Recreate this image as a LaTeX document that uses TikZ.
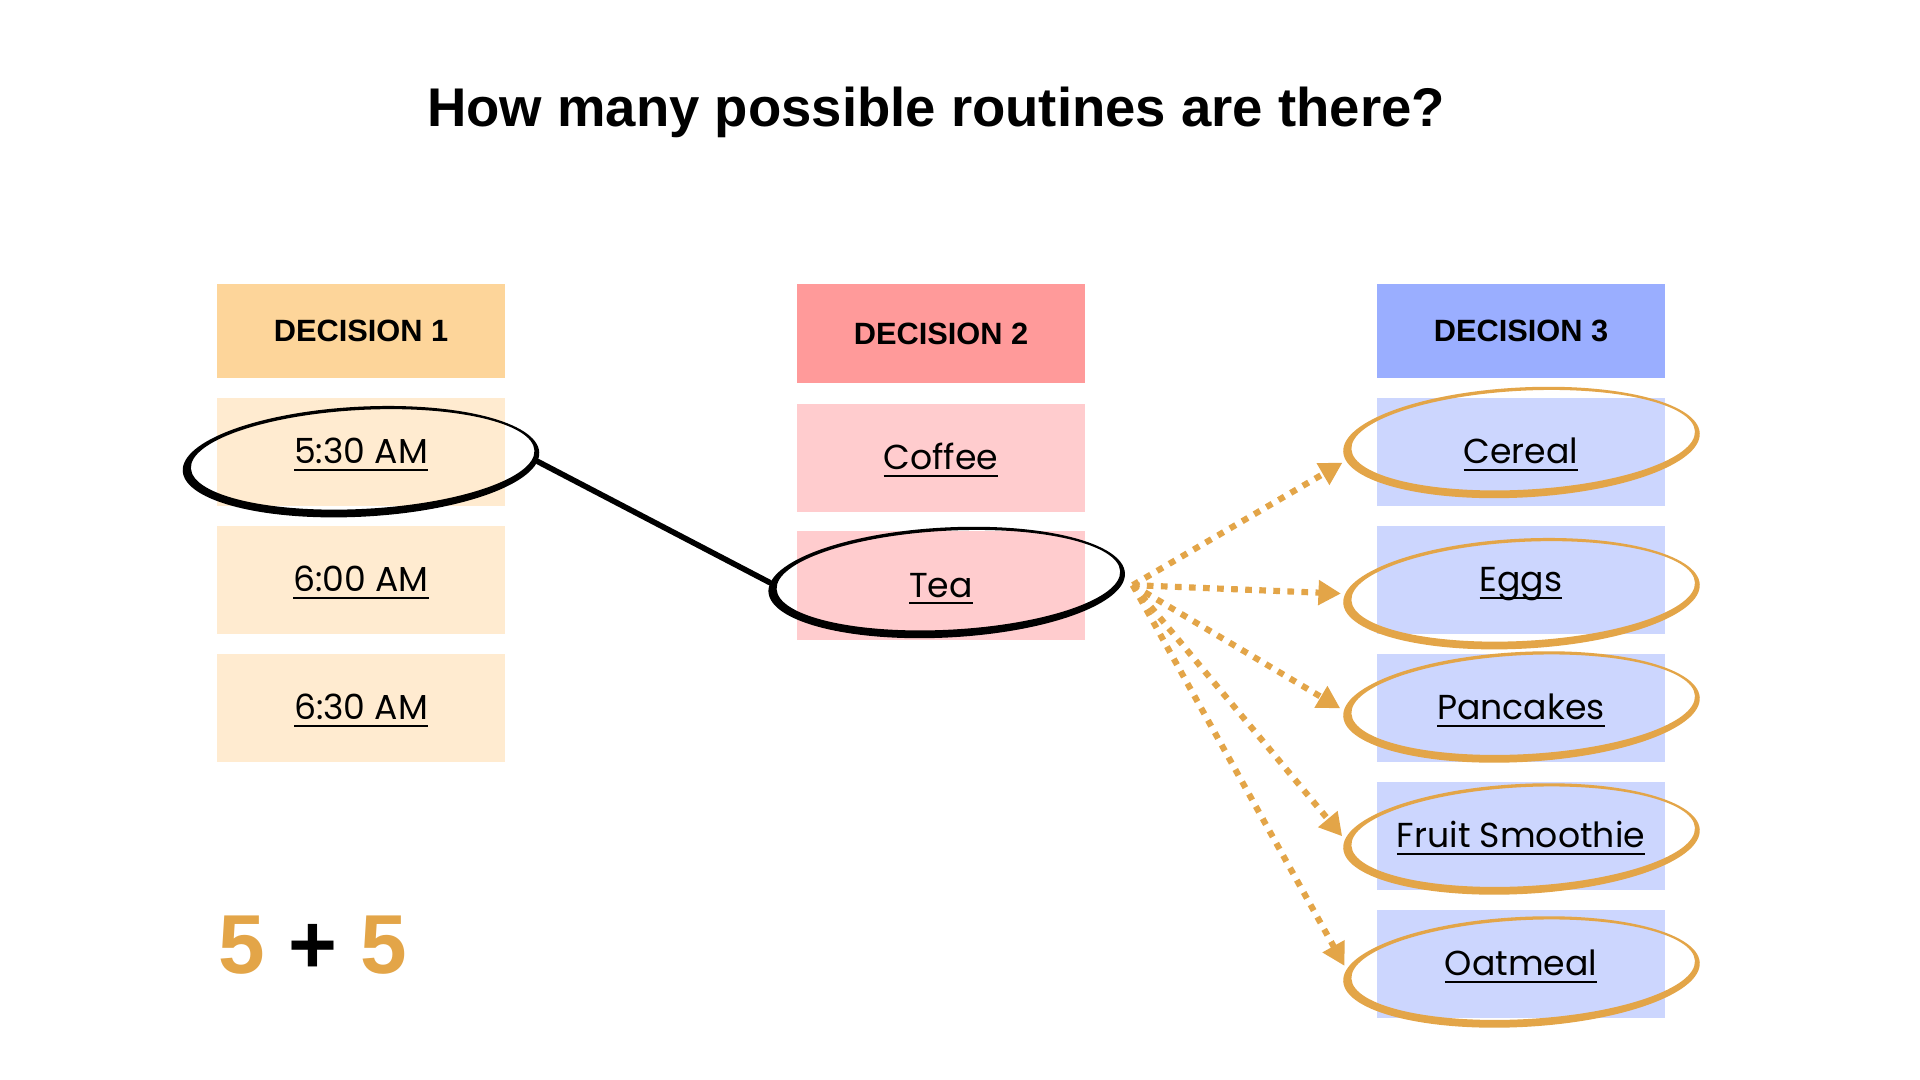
\documentclass[tikz,border=0pt]{standalone}
\usepackage{fontspec}
\usepackage{tikz}
\usetikzlibrary{shapes.geometric}
\usetikzlibrary{arrows.meta}
\setmainfont{Liberation Sans}
\newfontfamily\pop{Poppins}
\definecolor{dec1}{HTML}{FDD59A}
\definecolor{dec2}{HTML}{FF9A9A}
\definecolor{dec3}{HTML}{9AAEFF}
\definecolor{opt1}{HTML}{FFEBD0}
\definecolor{opt2}{HTML}{FFCCCE}
\definecolor{opt3}{HTML}{CCD6FE}
\definecolor{accent}{HTML}{E3A548}
\newcommand{\undl}[1]{\setbox0\hbox{#1}\rlap{\rule[-1.95pt]{\wd0}{0.62pt}}\box0}

\begin{document}
\begin{tikzpicture}[x=0.01cm, y=-0.01cm,
	head/.style={minimum width=2.88cm, minimum height=0.94cm, inner sep=0pt, text height=6pt, text depth=0pt, font=\fontsize{8.75pt}{10pt}\selectfont\bfseries},
	item/.style={minimum width=2.88cm, minimum height=1.08cm, inner sep=0pt, text height=6.8pt, text depth=0pt, font=\pop\fontsize{9.85pt}{11pt}\selectfont},
	hoop/.style={ellipse, minimum width=3.57cm, minimum height=1.1cm, inner sep=0pt, rotate=3},
	pick/.style={-{Triangle[length=6.4pt,width=6.8pt]}, accent, line width=1.75pt, dash pattern=on 1.9pt off 2.1pt, shorten >=1pt}]

	\fill [white] (0,0) rectangle (1920,1080);

	\node (T) at (936,126.7) [anchor=base, font=\fontsize{15.5pt}{18pt}\selectfont\bfseries] {How many possible routines are there?};

	\node (H1) [head, fill=dec1] at (361,331) {DECISION 1};
	\node (H2) [head, fill=dec2, minimum height=0.99cm] at (941,333.5) {DECISION 2};
	\node (H3) [head, fill=dec3] at (1521,331) {DECISION 3};

	\node (A1) [item, fill=opt1] at (361,452) {\undl{5:30 AM}};
	\node (A2) [item, fill=opt1] at (361,580) {\undl{6:00 AM}};
	\node (A3) [item, fill=opt1] at (361,708) {\undl{6:30 AM}};

	\node (B1) [item, fill=opt2] at (941,458) {\undl{Coffee}};
	\node (B2) [item, fill=opt2] at (941,585.5) {\undl{Tea}};

	\node (C1) [item, fill=opt3] at (1521,452) {\undl{Cereal}};
	\node (C2) [item, fill=opt3] at (1521,580) {\undl{Eggs}};
	\node (C3) [item, fill=opt3] at (1521,708) {\undl{Pancakes}};
	\node (C4) [item, fill=opt3] at (1521,836) {\undl{Fruit Smoothie}};
	\node (C5) [item, fill=opt3] at (1521,964) {\undl{Oatmeal}};

	% hand drawn rings
	\node (a1) [hoop] at (361,461.7) {};
	\node (b2) [hoop] at (946.7,582.5) {};
	\node (c1) [hoop] at (1521.5,442.5) {};
	\node (c2) [hoop] at (1521.5,593.7) {};
	\node (c3) [hoop] at (1521.5,707) {};
	\node (c4) [hoop] at (1521.5,839) {};
	\node (c5) [hoop] at (1521.5,972) {};
	\foreach \h/\c in {a1/black, b2/black, c1/accent, c2/accent, c3/accent, c4/accent, c5/accent}
		\fill [\c, even odd rule, rotate around={3:(\h.center)}] (\h.center) ellipse [x radius=178.5, y radius=55] ([shift={(1.8,-2.2)}]\h.center) ellipse [x radius=172, y radius=49.5];

	\draw [line width=1.6pt, line cap=round] (a1.-3) -- (b2.177);

	\coordinate (F) at ([shift={(7,12)}]b2.east);
	\draw [pick] (F) -- (c1.183);
	\draw [pick] (F) -- (c2.177);
	\draw [pick] (F) -- (c3.178);
	\draw [pick] (F) -- (c4.177);
	\draw [pick] (F) -- (c5.176);

	\node (N) at (217.5,973.3) [anchor=base west, inner sep=0pt, font=\fontsize{23.8pt}{28pt}\selectfont\bfseries] {\textcolor{accent}{5} + \textcolor{accent}{5}};

\end{tikzpicture}
\end{document}
